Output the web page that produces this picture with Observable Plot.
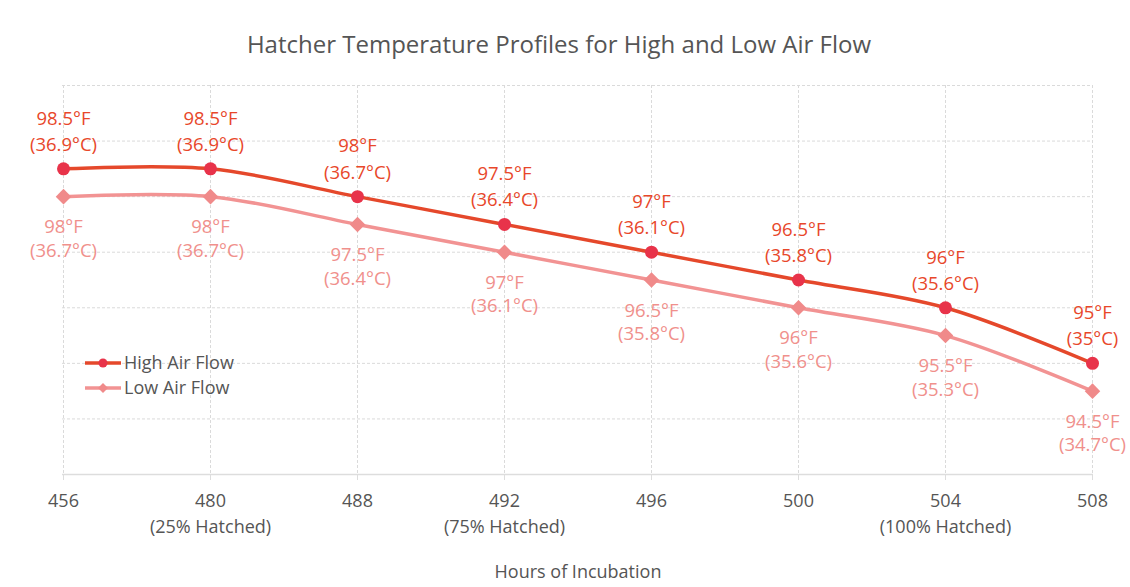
<!DOCTYPE html>
<html>
<head>
<meta charset="utf-8">
<script src="https://cdn.jsdelivr.net/npm/d3@7"></script>
<script src="https://cdn.jsdelivr.net/npm/@observablehq/plot@0.6"></script>
<style>
  body { margin: 0; background: #fff; font-family: "Open Sans", sans-serif; }
  #wrap { position: relative; width: 1130px; }
  #title { height: 70px; box-sizing: border-box; padding-top: 30px; text-align: center; font-size: 24px; line-height: 28px; color: #555; padding-right: 12px; }
  #legend { position: absolute; left: 85px; top: 350px; font-size: 18px; color: #555; line-height: 25px; }
  #legend div { display: flex; align-items: center; }
  #legend svg { margin-right: 3px; }
</style>
</head>
<body>
<div id="wrap">
  <div id="title">Hatcher Temperature Profiles for High and Low Air Flow</div>
  <div id="chart"></div>
  <div id="legend"></div>
</div>
<script>
const hours = ["456", "480", "488", "492", "496", "500", "504", "508"];
const subLabels = ["", "(25% Hatched)", "", "(75% Hatched)", "", "", "(100% Hatched)", ""];
const highF = [98.5, 98.5, 98, 97.5, 97, 96.5, 96, 95];
const highC = [36.9, 36.9, 36.7, 36.4, 36.1, 35.8, 35.6, 35];
const lowF = [98, 98, 97.5, 97, 96.5, 96, 95.5, 94.5];
const lowC = [36.7, 36.7, 36.4, 36.1, 35.8, 35.6, 35.3, 34.7];
const seriesNames = ["High Air Flow", "Low Air Flow"];

const highLine = "#e5482b", highDot = "#e8334a", highText = "#e8472a";
const lowLine = "#f29393", lowDot = "#f08a8a", lowText = "#f0908c";

const high = hours.map((h, i) => ({h, f: highF[i], c: highC[i]}));
const low = hours.map((h, i) => ({h, f: lowF[i], c: lowC[i]}));
const fmt = d => `${d.f}°F\n(${d.c}°C)`;

const chart = Plot.plot({
  width: 1130,
  height: 517,
  marginTop: 15,
  marginBottom: 113,
  marginLeft: 62,
  marginRight: 37,
  style: {fontFamily: "Open Sans, sans-serif", fontSize: "18px", color: "#555", background: "#fff"},
  x: {type: "point", domain: hours, padding: 0},
  y: {domain: [93, 100], axis: null},
  marks: [
    Plot.gridY(d3.range(93, 101), {stroke: "#dadada", strokeOpacity: 1, strokeDasharray: "3,2"}),
    Plot.gridX(hours, {stroke: "#dadada", strokeOpacity: 1, strokeDasharray: "3,2"}),
    Plot.ruleY([93], {stroke: "#ddd", strokeWidth: 1.5}),
    Plot.axisX({
      tickSize: 6, tickPadding: 9, stroke: "#ddd", fill: "#555", fontSize: 18, lineHeight: 1.4,
      tickFormat: (d, i) => subLabels[hours.indexOf(d)] ? `${d}\n${subLabels[hours.indexOf(d)]}` : d,
      label: "Hours of Incubation", labelAnchor: "center", labelOffset: 103, labelArrow: "none"
    }),
    Plot.line(low, {x: "h", y: "f", stroke: lowLine, strokeWidth: 3.5, curve: "catmull-rom"}),
    Plot.line(high, {x: "h", y: "f", stroke: highLine, strokeWidth: 3.5, curve: "catmull-rom"}),
    Plot.dot(low, {x: "h", y: "f", symbol: "diamond2", r: 7, fill: lowDot, stroke: null}),
    Plot.dot(high, {x: "h", y: "f", symbol: "circle", r: 6.5, fill: highDot, stroke: null}),
    Plot.text(high, {x: "h", y: "f", text: fmt, fill: highText, fontSize: 18.5, lineAnchor: "bottom", dy: -18, lineHeight: 1.42}),
    Plot.text(low, {x: "h", y: "f", text: fmt, fill: lowText, fontSize: 18.5, lineAnchor: "top", dy: 20, lineHeight: 1.27})
  ]
});
document.getElementById("chart").appendChild(chart);

const legend = document.getElementById("legend");
seriesNames.forEach((name, i) => {
  const row = document.createElement("div");
  const col = i === 0 ? highLine : lowLine;
  const mk = i === 0
    ? `<circle cx="18" cy="10" r="4.5" fill="${highDot}"/>`
    : `<path d="M18 5 L23 10 L18 15 L13 10 Z" fill="${lowDot}"/>`;
  row.innerHTML = `<svg width="36" height="20"><line x1="0" y1="10" x2="36" y2="10" stroke="${col}" stroke-width="3.5"/>${mk}</svg><span>${name}</span>`;
  legend.appendChild(row);
});
</script>
</body>
</html>
